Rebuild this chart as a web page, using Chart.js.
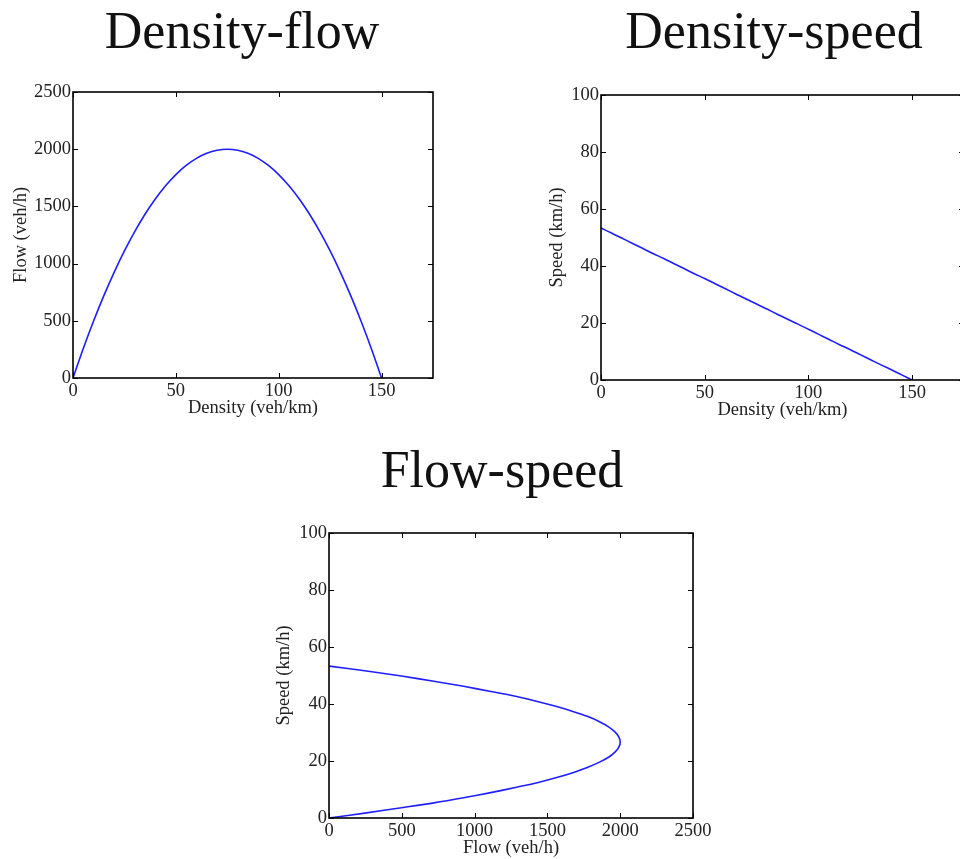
<!DOCTYPE html>
<html>
<head>
<meta charset="utf-8">
<script src="https://cdn.jsdelivr.net/npm/chart.js@4/dist/chart.umd.min.js"></script>
<style>
    html, body { margin: 0; padding: 0; background: #fff; overflow: hidden; }
    body { width: 960px; height: 859px; position: relative; }
    canvas { position: absolute; }
    .title {
        position: absolute; font-family: 'Liberation Serif', serif; font-size: 52px;
        line-height: 52px; color: #111; white-space: nowrap; transform: translateX(-50%);
    }
</style>
</head>
<body>
<div class="title" style="left:242px; top:5px;">Density-flow</div>
<div class="title" style="left:774px; top:5px;">Density-speed</div>
<div class="title" style="left:502px; top:444px;">Flow-speed</div>

<canvas id="chart-kq" width="450" height="362" style="left:0px; top:60px;"></canvas>
<canvas id="chart-kv" width="460" height="364" style="left:520px; top:60px;"></canvas>
<canvas id="chart-qv" width="470" height="362" style="left:250px; top:500px;"></canvas>

<script>
// density (veh/km)
const density = [0, 5, 10, 15, 20, 25, 30, 35, 40, 45, 50, 55, 60, 65, 70, 75,
    80, 85, 90, 95, 100, 105, 110, 115, 120, 125, 130, 135, 140, 145, 150];
// flow (veh/h) at each density
const flow = [0, 258, 498, 720, 924, 1111, 1280, 1431, 1564, 1680, 1778, 1858, 1920, 1964, 1991, 2000,
    1991, 1964, 1920, 1858, 1778, 1680, 1564, 1431, 1280, 1111, 924, 720, 498, 258, 0];
// speed (km/h) at each density
const speed = [53.3, 51.6, 49.8, 48.0, 46.2, 44.4, 42.7, 40.9, 39.1, 37.3, 35.6, 33.8, 32.0, 30.2, 28.4, 26.7,
    24.9, 23.1, 21.3, 19.6, 17.8, 16.0, 14.2, 12.4, 10.7, 8.9, 7.1, 5.3, 3.6, 1.8, 0];

// tick labels
const densityTicks = [0, 50, 100, 150];
const flowTicks = [0, 500, 1000, 1500, 2000, 2500];
const speedTicks = [0, 20, 40, 60, 80, 100];

Chart.defaults.font.family = "'Liberation Serif', serif";
Chart.defaults.font.size = 18.5;
Chart.defaults.color = '#222';

// matlab style box with inward ticks on all four sides
const boxPlugin = {
    id: 'matlabBox',
    afterDraw(chart) {
        const {ctx, chartArea: a, scales} = chart;
        const len = 5;
        ctx.save();
        ctx.strokeStyle = '#000';
        ctx.lineWidth = 1;
        scales.x.ticks.forEach(t => {
            const px = Math.round(scales.x.getPixelForValue(t.value)) + 0.5;
            ctx.beginPath();
            ctx.moveTo(px, a.bottom); ctx.lineTo(px, a.bottom - len);
            ctx.moveTo(px, a.top); ctx.lineTo(px, a.top + len);
            ctx.stroke();
        });
        scales.y.ticks.forEach(t => {
            const py = Math.round(scales.y.getPixelForValue(t.value)) + 0.5;
            ctx.beginPath();
            ctx.moveTo(a.left, py); ctx.lineTo(a.left + len, py);
            ctx.moveTo(a.right, py); ctx.lineTo(a.right - len, py);
            ctx.stroke();
        });
        ctx.lineWidth = 1.6;
        ctx.strokeRect(a.left, a.top, a.right - a.left, a.bottom - a.top);
        ctx.restore();
    }
};

function createChart(canvasId, xs, ys, axes, box) {
    const ctx = document.getElementById(canvasId);
    const points = xs.map((x, i) => ({x: x, y: ys[i]}));

    return new Chart(ctx, {
        type: 'scatter',
        data: {
            datasets: [{
                data: points,
                showLine: true,
                borderColor: 'rgb(30,30,255)',
                borderWidth: 1.6,
                pointRadius: 0,
                tension: 0.3
            }]
        },
        options: {
            responsive: false,
            animation: false,
            layout: {padding: {left: box.left, top: box.top, right: box.right, bottom: 0}},
            plugins: {
                legend: {display: false},
                tooltip: {enabled: false}
            },
            scales: {
                x: {
                    type: 'linear',
                    min: axes.xMin, max: axes.xMax,
                    grid: {display: false, drawTicks: false},
                    border: {display: false},
                    ticks: {padding: 2, maxRotation: 0, callback: v => String(v)},
                    afterBuildTicks: s => { s.ticks = axes.xTicks.map(v => ({value: v})); },
                    afterFit: s => { s.height = box.xHeight; },
                    title: {display: true, text: axes.xLabel, padding: {top: 3, bottom: 3}}
                },
                y: {
                    type: 'linear',
                    min: axes.yMin, max: axes.yMax,
                    grid: {display: false, drawTicks: false},
                    border: {display: false},
                    ticks: {padding: 2, callback: v => String(v)},
                    afterBuildTicks: s => { s.ticks = axes.yTicks.map(v => ({value: v})); },
                    afterFit: s => { s.width = box.yWidth; },
                    title: {display: true, text: axes.yLabel, padding: {top: 3, bottom: 3}}
                }
            }
        },
        plugins: [boxPlugin]
    });
}

createChart('chart-kq', density, flow,
    {xMin: 0, xMax: 175, yMin: 0, yMax: 2500, xTicks: densityTicks, yTicks: flowTicks,
     xLabel: 'Density (veh/km)', yLabel: 'Flow (veh/h)'},
    {left: 7, top: 32, right: 17, yWidth: 66, xHeight: 44});

createChart('chart-kv', density, speed,
    {xMin: 0, xMax: 175, yMin: 0, yMax: 100, xTicks: densityTicks, yTicks: speedTicks,
     xLabel: 'Density (veh/km)', yLabel: 'Speed (km/h)'},
    {left: 23, top: 35, right: 16, yWidth: 58, xHeight: 44});

createChart('chart-qv', flow, speed,
    {xMin: 0, xMax: 2500, yMin: 0, yMax: 100, xTicks: flowTicks, yTicks: speedTicks,
     xLabel: 'Flow (veh/h)', yLabel: 'Speed (km/h)'},
    {left: 20, top: 33, right: 27, yWidth: 59, xHeight: 44});
</script>
</body>
</html>
